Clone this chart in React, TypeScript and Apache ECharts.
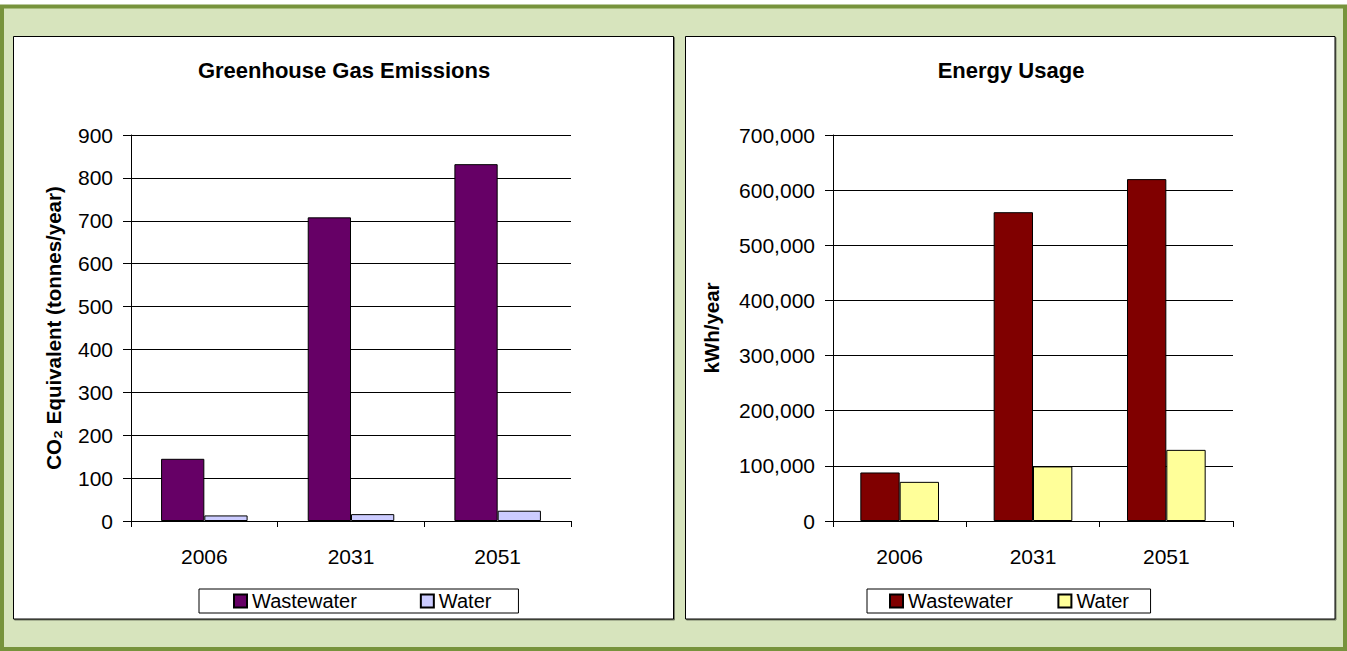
import React, { useEffect, useRef } from "react";
import * as echarts from "echarts";

const categories = ["2006", "2031", "2051"];
const seriesNames = ["Wastewater", "Water"];
const ghgWastewater = [145, 708, 832];
const ghgWater = [13, 16, 24];
const energyWastewater = [88000, 560000, 620000];
const energyWater = [71000, 99000, 129000];
const ghgTitle = "Greenhouse Gas Emissions";
const energyTitle = "Energy Usage";
const ghgAxisName = "CO₂ Equivalent (tonnes/year)";
const energyAxisName = "kWh/year";

const FONT = "'Liberation Sans', Arial, sans-serif";

export default function App() {
  const ref = useRef<HTMLDivElement>(null);
  useEffect(() => {
    if (!ref.current) return;
    const chart = echarts.init(ref.current, null, { renderer: "svg" });
    const axisLabel = { color: "#000", fontSize: 21, fontFamily: FONT };
    const xAxisBase = {
      type: "category",
      data: categories,
      axisLine: { lineStyle: { color: "#000", width: 1 } },
      axisTick: { show: true, length: 6, lineStyle: { color: "#000" } },
      axisLabel: { ...axisLabel, margin: 25 },
    };
    const yAxisBase = {
      type: "value",
      min: 0,
      nameLocation: "middle",
      nameRotate: 90,
      nameTextStyle: { color: "#000", fontSize: 20.5, fontWeight: "bold", fontFamily: FONT },
      axisLine: { show: true, lineStyle: { color: "#000", width: 1 } },
      axisTick: { show: true, length: 8, inside: false, lineStyle: { color: "#000" } },
      axisLabel: { ...axisLabel, margin: 18 },
      splitLine: { show: true, lineStyle: { color: "#000", width: 1 } },
    };
    const barBase = {
      type: "bar",
      barGap: "0%",
      barCategoryGap: "41%",
    };
    const panelStyle = {
      fill: "#fff",
      stroke: "#000",
      lineWidth: 1,
      shadowColor: "rgba(0,0,0,0.45)",
      shadowOffsetX: 1,
      shadowOffsetY: 1,
      shadowBlur: 0,
    };
    const legendBase = {
      orient: "horizontal",
      top: 589,
      itemWidth: 13,
      itemHeight: 13,
      borderColor: "#000",
      borderWidth: 1,
      backgroundColor: "#fff",
      textStyle: { color: "#000", fontSize: 20, fontFamily: FONT },
      icon: "rect",
    };
    const option: any = {
      animation: false,
      textStyle: { fontFamily: FONT },
      graphic: [
        {
          type: "rect",
          z: -10,
          silent: true,
          shape: { x: 2, y: 6.5, width: 1343, height: 642.5 },
          style: { fill: "#d7e4bd", stroke: "#77933c", lineWidth: 4 },
        },
        {
          type: "rect",
          z: -9,
          silent: true,
          shape: { x: 13.5, y: 36.5, width: 660, height: 582.5 },
          style: panelStyle,
        },
        {
          type: "rect",
          z: -9,
          silent: true,
          shape: { x: 685.5, y: 36.5, width: 649.5, height: 582.5 },
          style: panelStyle,
        },
      ],
      title: [
        {
          text: ghgTitle,
          left: 344,
          top: 59,
          textAlign: "center",
          padding: 0,
          textStyle: { color: "#000", fontSize: 22, fontWeight: "bold", fontFamily: FONT },
        },
        {
          text: energyTitle,
          left: 1011,
          top: 59,
          textAlign: "center",
          padding: 0,
          textStyle: { color: "#000", fontSize: 22, fontWeight: "bold", fontFamily: FONT },
        },
      ],
      legend: [
        {
          ...legendBase,
          data: [{ name: seriesNames[0] }, { name: seriesNames[1] }],
          left: 199,
          itemGap: 63,
          padding: [2, 27, 2, 34],
        },
        {
          ...legendBase,
          data: [{ name: seriesNames[0] + " " }, { name: seriesNames[1] + " " }],
          left: 867,
          itemGap: 39,
          padding: [2, 16, 2, 22],
        },
      ],
      grid: [
        { left: 131, top: 135, width: 440, height: 386 },
        { left: 833, top: 135, width: 400, height: 386 },
      ],
      xAxis: [
        { ...xAxisBase, gridIndex: 0 },
        { ...xAxisBase, gridIndex: 1 },
      ],
      yAxis: [
        {
          ...yAxisBase,
          gridIndex: 0,
          max: 900,
          interval: 100,
          name: ghgAxisName,
          nameGap: 67,
        },
        {
          ...yAxisBase,
          gridIndex: 1,
          max: 700000,
          interval: 100000,
          name: energyAxisName,
          nameGap: 111,
          axisLabel: {
            ...yAxisBase.axisLabel,
            formatter: (v: number) => v.toLocaleString("en-US"),
          },
        },
      ],
      series: [
        {
          ...barBase,
          name: seriesNames[0],
          xAxisIndex: 0,
          yAxisIndex: 0,
          data: ghgWastewater,
          itemStyle: { color: "#660066", borderColor: "#000", borderWidth: 1 },
        },
        {
          ...barBase,
          name: seriesNames[1],
          xAxisIndex: 0,
          yAxisIndex: 0,
          data: ghgWater,
          itemStyle: { color: "#ccccff", borderColor: "#000", borderWidth: 1 },
        },
        {
          ...barBase,
          name: seriesNames[0] + " ",
          xAxisIndex: 1,
          yAxisIndex: 1,
          data: energyWastewater,
          itemStyle: { color: "#800000", borderColor: "#000", borderWidth: 1 },
        },
        {
          ...barBase,
          name: seriesNames[1] + " ",
          xAxisIndex: 1,
          yAxisIndex: 1,
          data: energyWater,
          itemStyle: { color: "#ffff99", borderColor: "#000", borderWidth: 1 },
        },
      ],
    };
    chart.setOption(option);
    return () => chart.dispose();
  }, []);
  return (
    <div
      ref={ref}
      style={{ position: "absolute", left: 0, top: 0, width: 1347, height: 651 }}
    />
  );
}
